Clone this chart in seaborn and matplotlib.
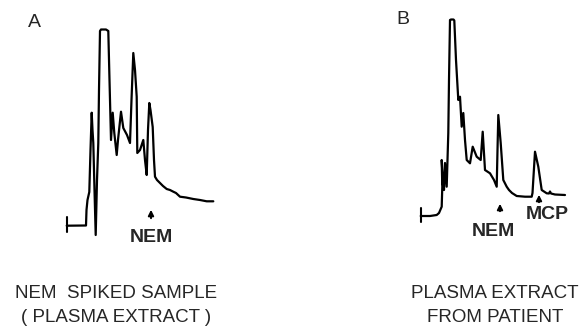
import matplotlib
matplotlib.use('Agg')

import numpy as np
import matplotlib.pyplot as plt
import seaborn as sns

# Chromatogram traces (x = retention position, y = detector response, arbitrary units)
trace_a_time = [66.7, 86, 86.5, 87.5, 89.3, 90.5, 91.7, 92.5, 93.3, 94.5, 95.7, 97, 98.3, 99,
                100, 101, 106, 108.3, 109.5, 111, 112.7, 114.3, 116.7, 118, 121, 123.3, 127,
                130, 131.5, 133.3, 135, 136.7, 137.3, 140, 143.3, 145, 146.7, 148, 149.3,
                150.5, 152.7, 154, 155, 157, 160, 163, 166.7, 170, 173.3, 176, 180, 186,
                193.3, 200, 206.7, 213.3]
trace_a_resp = [104.3, 104.5, 120, 130, 138, 180, 217.3, 200, 187, 140, 95, 150, 187, 240,
                299, 300.5, 300.5, 299, 250, 190, 217.3, 197, 175, 190, 218.3, 202, 195,
                187, 230, 277, 260, 233.3, 177, 180, 190, 170, 155, 200, 227, 220, 203,
                170, 153.3, 150, 147, 144, 141, 140, 138.3, 137, 133.3, 132.5, 131, 130,
                128.7, 128.7]

trace_b_time = [420.7, 430, 436.7, 439, 441.7, 442.3, 441.7, 443, 444, 445, 446.7, 448.3, 449,
                450, 451, 453.5, 454.3, 456, 458.3, 460, 461.7, 463.3, 465, 466.7, 470, 472.7,
                476.7, 480.7, 482.7, 485, 490, 494, 496.7, 497.5, 498.3, 500.7, 503.3, 506.7,
                509, 512, 516.7, 525, 531.7, 532.5, 535, 538.3, 541.7, 546.7, 549, 550, 551,
                555, 565]
trace_b_resp = [114, 114, 115, 117, 123.3, 143.3, 170, 145, 140, 167, 143.3, 197, 250, 310,
                310.5, 310.5, 309.5, 270, 230, 233.3, 203.3, 217, 190, 170, 166.7, 183.3,
                173.3, 170, 198.3, 160, 156.7, 150, 143.3, 180, 215, 187, 150, 143.3, 140,
                137, 134, 133.3, 133.3, 137, 178.3, 163.3, 140, 136.7, 136.5, 138.5, 136.5,
                135.5, 135]

panel_labels = ['A', 'B']
peak_labels_a = ['NEM']
peak_labels_b = ['NEM', 'MCP']
captions_a = ['NEM  SPIKED SAMPLE', '( PLASMA EXTRACT )']
captions_b = ['PLASMA EXTRACT', 'FROM PATIENT']

sns.set_style('white')
plt.rcParams['font.family'] = ['Liberation Sans', 'DejaVu Sans']

fig = plt.figure(figsize=(5.82, 3.30), dpi=100)
ax = fig.add_axes([0, 0, 1, 1])
ax.set_xlim(0, 582)
ax.set_ylim(0, 330)
ax.axis('off')

sns.lineplot(x=trace_a_time, y=trace_a_resp, sort=False, estimator=None,
             color='black', linewidth=1.6, ax=ax)
sns.lineplot(x=trace_b_time, y=trace_b_resp, sort=False, estimator=None,
             color='black', linewidth=1.6, ax=ax)

# injection markers at start of each trace
ax.plot([trace_a_time[0]] * 2, [98, 113], color='black', lw=1.5)
ax.plot([trace_b_time[0]] * 2, [108, 122], color='black', lw=1.5)

# panel letters
ax.text(34, 307.5, panel_labels[0], fontsize=14, ha='center', va='center')
ax.text(402.5, 310, panel_labels[1], fontsize=14, ha='center', va='center')

# peak arrows and labels
arrow = dict(arrowstyle='-|>', color='black', lw=1.4, mutation_scale=8)
ax.annotate('', xy=(151, 123), xytext=(151, 109), arrowprops=arrow)
ax.text(151, 92.5, peak_labels_a[0], fontsize=14, fontweight='bold', ha='center', va='center')

ax.annotate('', xy=(500, 129), xytext=(500, 116), arrowprops=arrow)
ax.text(493.5, 99, peak_labels_b[0], fontsize=14, fontweight='bold', ha='center', va='center')
ax.annotate('', xy=(539, 138), xytext=(539, 125), arrowprops=arrow)
ax.text(547.5, 115.5, peak_labels_b[1], fontsize=14, fontweight='bold', ha='center', va='center')

# captions
for i, line in enumerate(captions_a):
    ax.text(116, 36 - 23 * i, line, fontsize=13.5, ha='center', va='center')
for i, line in enumerate(captions_b):
    ax.text(495, 36 - 23 * i, line, fontsize=13.5, ha='center', va='center')

fig.savefig('out.png', dpi=100)
